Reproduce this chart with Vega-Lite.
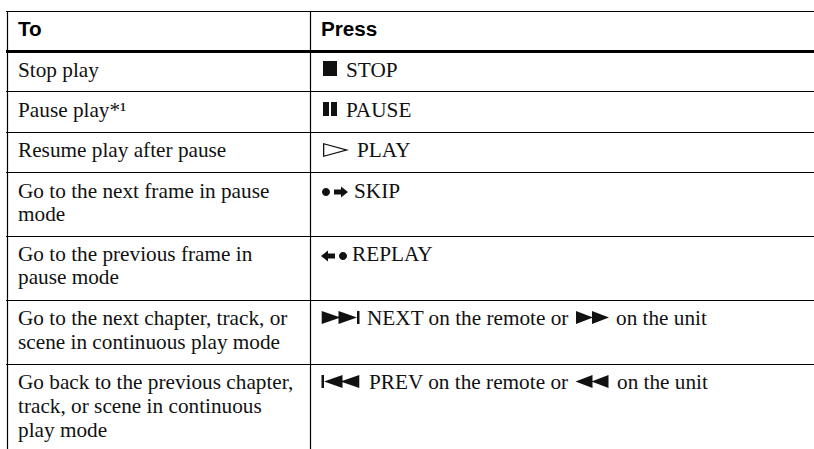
{"$schema":"https://vega.github.io/schema/vega-lite/v6.json","width":814,"height":449,"padding":0,"autosize":{"type":"none"},"background":"#ffffff","config":{"view":{"stroke":null}},
"data":{"values":[
{"role":"thin","x":3,"x2":407,"y":5.75},
{"role":"thick","x":3,"x2":407,"y":25.75},
{"role":"thin","x":3,"x2":407,"y":45.75},
{"role":"thin","x":3,"x2":407,"y":66.25},
{"role":"thin","x":3,"x2":407,"y":86.25},
{"role":"thin","x":3,"x2":407,"y":118.25},
{"role":"thin","x":3,"x2":407,"y":150.25},
{"role":"thin","x":3,"x2":407,"y":182.25},
{"role":"vert","x":3.75,"y":5.75,"y2":224.5},
{"role":"vert","x":155.25,"y":5.75,"y2":224.5},
{"role":"head","x":9,"y":18,"text":"To"},
{"role":"head","x":160.5,"y":18,"text":"Press"},
{"role":"body","x":9,"y":38.25,"text":"Stop play"},
{"role":"body","x":9,"y":58.25,"text":"Pause play*¹"},
{"role":"body","x":9,"y":78.5,"text":"Resume play after pause"},
{"role":"body","x":9,"y":98.75,"text":"Go to the next frame in pause"},
{"role":"body","x":9,"y":110.25,"text":"mode"},
{"role":"body","x":9,"y":130.5,"text":"Go to the previous frame in"},
{"role":"body","x":9,"y":142,"text":"pause mode"},
{"role":"body","x":9,"y":162.5,"text":"Go to the next chapter, track, or"},
{"role":"body","x":9,"y":174.5,"text":"scene in continuous play mode"},
{"role":"body","x":9,"y":194.5,"text":"Go back to the previous chapter,"},
{"role":"body","x":9,"y":206.5,"text":"track, or scene in continuous"},
{"role":"body","x":9,"y":218.5,"text":"play mode"},
{"role":"body","x":173,"y":38.25,"text":"STOP"},
{"role":"body","x":173,"y":58.25,"text":"PAUSE"},
{"role":"body","x":178.5,"y":78.5,"text":"PLAY"},
{"role":"body","x":177,"y":98.75,"text":"SKIP"},
{"role":"body","x":176,"y":130.5,"text":"REPLAY"},
{"role":"body","x":183.5,"y":162.5,"text":"NEXT on the remote or"},
{"role":"body","x":308,"y":162.5,"text":"on the unit"},
{"role":"body","x":184.5,"y":194.5,"text":"PREV on the remote or"},
{"role":"body","x":308.5,"y":194.5,"text":"on the unit"},
{"role":"glyph","x":165,"y":34.25,"glyph":"stop"},
{"role":"glyph","x":165,"y":54.5,"glyph":"pause"},
{"role":"glyph","x":168,"y":75,"glyph":"play"},
{"role":"glyph","x":163,"y":96,"glyph":"dot"},
{"role":"glyph","x":170.5,"y":96,"glyph":"right"},
{"role":"glyph","x":164,"y":128,"glyph":"left"},
{"role":"glyph","x":171.5,"y":128,"glyph":"dot"},
{"role":"glyph","x":170.25,"y":158.75,"glyph":"next"},
{"role":"glyph","x":296.25,"y":158.75,"glyph":"ff"},
{"role":"glyph","x":170.25,"y":190.75,"glyph":"prev"},
{"role":"glyph","x":296,"y":190.75,"glyph":"rew"}
]},
"encoding":{
"x":{"field":"x","type":"quantitative","axis":null,"scale":{"domain":[0,407],"nice":false,"zero":false}},
"y":{"field":"y","type":"quantitative","axis":null,"scale":{"domain":[0,224.5],"nice":false,"zero":false,"reverse":true}}
},
"layer":[
{"transform":[{"filter":"datum.role==='thin'"}],"mark":{"type":"rule","stroke":"#000000","strokeWidth":1.2},"encoding":{"x2":{"field":"x2"}}},
{"transform":[{"filter":"datum.role==='thick'"}],"mark":{"type":"rule","stroke":"#000000","strokeWidth":3},"encoding":{"x2":{"field":"x2"}}},
{"transform":[{"filter":"datum.role==='vert'"}],"mark":{"type":"rule","stroke":"#000000","strokeWidth":1.2},"encoding":{"y2":{"field":"y2"}}},
{"transform":[{"filter":"datum.role==='head'"}],"mark":{"type":"text","align":"left","baseline":"alphabetic","font":"Liberation Sans","fontWeight":"bold","fontSize":20.7,"fill":"#000000"},"encoding":{"text":{"field":"text"}}},
{"transform":[{"filter":"datum.role==='body'"}],"mark":{"type":"text","align":"left","baseline":"alphabetic","font":"Liberation Serif","fontSize":21.25,"fill":"#111111"},"encoding":{"text":{"field":"text"}}},
{"transform":[{"filter":"datum.role==='glyph'"}],"mark":{"type":"point","filled":true,"opacity":1,"size":400,"fill":"#111111","stroke":null},"encoding":{"shape":{"field":"glyph","type":"nominal","legend":null,"scale":{"domain":["stop","pause","play","dot","right","left","next","ff","prev","rew"],"range":[
"M-.7,-.75H.7V.75H-.7Z",
"M-.7,-.7H-.1V.7H-.7ZM.1,-.7H.7V.7H.1Z",
"M-1.3,-.7L1.3,0L-1.3,.7ZM-1.17,-.54L-1.17,.54L.84,0Z",
"M-.4,0A.4,.4,0,1,1,.4,0A.4,.4,0,1,1,-.4,0Z",
"M-.7,-.25H0V-.55L.7,0L0,.55V.25H-.7Z",
"M.7,-.25H0V-.55L-.7,0L0,.55V.25H.7Z",
"M-1.88,-.65L0,0L-1.88,.65ZM-.2,-.65L1.65,0L-.2,.65ZM1.65,-.65H1.9V.65H1.65Z",
"M-1.65,-.65L.05,0L-1.65,.65ZM-.05,-.65L1.65,0L-.05,.65Z",
"M1.88,-.65L0,0L1.88,.65ZM.2,-.65L-1.65,0L.2,.65ZM-1.65,-.65H-1.9V.65H-1.65Z",
"M1.65,-.65L-.05,0L1.65,.65ZM.05,-.65L-1.65,0L.05,.65Z"
]}}}}
]}
